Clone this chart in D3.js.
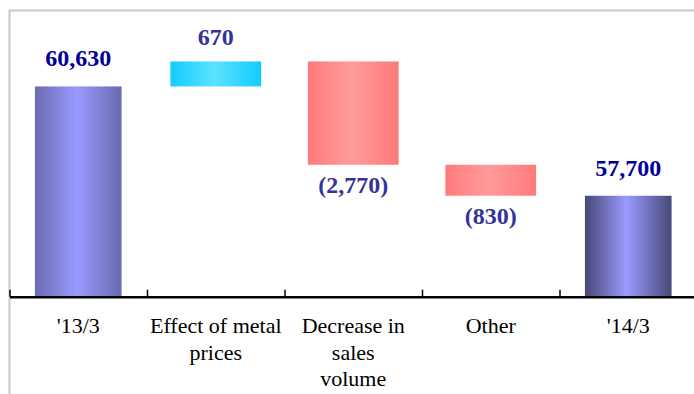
<!DOCTYPE html>
<html>
<head>
<meta charset="utf-8">
<script src="https://cdnjs.cloudflare.com/ajax/libs/d3/7.8.5/d3.min.js"></script>
</head>
<body style="margin:0">
<script>
// data
var categories = ["'13/3", "Effect of metal prices", "Decrease in sales volume", "Other", "'14/3"];
var labelLines = [["'13/3"], ["Effect of metal", "prices"], ["Decrease in", "sales", "volume"], ["Other"], ["'14/3"]];
var values = [60630, 670, -2770, -830, 57700];
var kinds = ["total", "delta", "delta", "delta", "total"];
var valueText = ["60,630", "670", "(2,770)", "(830)", "57,700"];

var width = 694, height = 394;

var svg = d3.select("body").append("svg")
	.attr("width", width)
	.attr("height", height);

// gradients
var defs = svg.append("defs");
function grad(id, edge, mid) {
	var g = defs.append("linearGradient").attr("id", id)
		.attr("x1", "0%").attr("x2", "100%").attr("y1", "0%").attr("y2", "0%");
	g.append("stop").attr("offset", "0%").attr("stop-color", edge);
	g.append("stop").attr("offset", "48%").attr("stop-color", mid);
	g.append("stop").attr("offset", "100%").attr("stop-color", edge);
}
grad("gTot1", "#6a6ab0", "#9a9aff");
grad("gTot2", "#484878", "#9a9aff");
grad("gUp", "#12ccff", "#5de1ff");
grad("gDown", "#ff7a7a", "#ff9b9b");

// frame
svg.append("path")
	.attr("d", "M9.5,394 V10.5 H694")
	.attr("fill", "none")
	.attr("stroke", "#c8c8c8")
	.attr("stroke-width", 2);

var x = d3.scaleBand().domain(categories).range([9.5, 697]).padding(0);
var y = d3.scaleLinear().domain([55000, 63000]).range([296.5, -2]);

// waterfall extents
var run = 0;
var bars = values.map(function(v, i) {
	var lo, hi;
	if (kinds[i] === "total") { lo = 55000; hi = v; run = v; }
	else { var prev = run; run = run + v; lo = Math.min(prev, run); hi = Math.max(prev, run); }
	return { cat: categories[i], v: v, lo: lo, hi: hi, kind: kinds[i], text: valueText[i], i: i };
});

var totW = x.bandwidth() * 0.63, delW = x.bandwidth() * 0.66;

svg.append("g").selectAll("rect")
	.data(bars)
	.enter()
	.append("rect")
		.attr("x", function(d) { var w = d.kind === "total" ? totW : delW; return x(d.cat) + (x.bandwidth() - w) / 2; })
		.attr("width", function(d) { return d.kind === "total" ? totW : delW; })
		.attr("y", function(d) { return y(d.hi); })
		.attr("height", function(d) { return y(d.lo) - y(d.hi); })
		.attr("fill", function(d) {
			if (d.kind === "total") return d.i === 0 ? "url(#gTot1)" : "url(#gTot2)";
			return d.v > 0 ? "url(#gUp)" : "url(#gDown)";
		});

// axis with ticks on category edges
var edge = d3.scaleLinear().domain([0, categories.length]).range([9.5, 697]);
var axis = svg.append("g")
	.attr("transform", "translate(0,296.7)")
	.call(d3.axisBottom(edge).tickValues(d3.range(0, categories.length + 1)).tickSize(-7).tickSizeOuter(0).tickFormat(""));
axis.select(".domain").attr("stroke", "#000").attr("stroke-width", 2.5);
axis.selectAll(".tick line").attr("stroke", "#000").attr("stroke-width", 1.5);

// value labels
svg.selectAll("text.val")
	.data(bars)
	.enter()
	.append("text")
		.attr("class", "val")
		.attr("x", function(d) { return x(d.cat) + x.bandwidth() / 2; })
		.attr("y", function(d) {
			if (d.kind === "total") return y(d.hi) - 20;
			if (d.v > 0) return y(d.hi) - 16;
			return y(d.lo) + 28;
		})
		.attr("text-anchor", "middle")
		.attr("font-size", 24)
		.attr("font-weight", "bold")
		.attr("font-family", function(d) { return "Times New Roman"; })
		.attr("fill", function(d) { return d.kind === "total" ? "#000099" : "#333399"; })
		.text(function(d) { return d.text; });

// category labels, one text per line
var lines = [];
labelLines.forEach(function(ls, i) {
	ls.forEach(function(s, j) { lines.push({ cat: categories[i], s: s, j: j }); });
});
svg.selectAll("text.cat")
	.data(lines)
	.enter()
	.append("text")
		.attr("class", "cat")
		.attr("x", function(d) { return x(d.cat) + x.bandwidth() / 2; })
		.attr("y", function(d) { return 333 + d.j * 26.5; })
		.attr("text-anchor", "middle")
		.attr("font-size", 22)
		.attr("font-family", function(d) { return "Times New Roman"; })
		.attr("fill", "#000")
		.text(function(d) { return d.s; });
</script>
</body>
</html>
